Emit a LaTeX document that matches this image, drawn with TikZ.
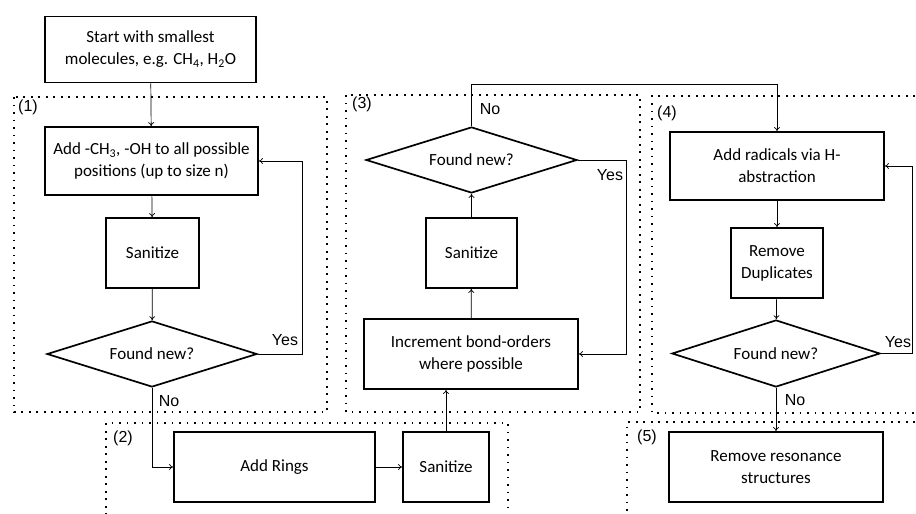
\documentclass[tikz,border=0pt]{standalone}
\usepackage{fontspec}
\setmainfont{Carlito}
\newfontfamily\arialf{Liberation Sans}
\usetikzlibrary{shapes.geometric,arrows.meta}
\begin{document}
\begin{tikzpicture}[x=1pt,y=-1pt,
  stepbox/.style={draw,line width=1.7pt,align=center,font=\fontsize{17}{22}\selectfont,inner sep=0pt},
  dia/.style={draw,diamond,line width=1.7pt,inner sep=0pt,font=\fontsize{17}{22}\selectfont,minimum width=210pt,minimum height=66pt,aspect=3.2},
  arr/.style={-{To[length=4pt,width=6pt]},line width=0.7pt},
  dots/.style={line width=1.7pt,dash pattern=on 1.7pt off 5.8pt},
  lbl/.style={font=\arialf\fontsize{16}{18}\selectfont,inner sep=0pt}]
\useasboundingbox (0,0) rectangle (916,514);
\begin{scope}
\clip (0,0) rectangle (916,514);
% dotted regions
\draw[dots] (14,97) rectangle (327,412);
\draw[dots] (346,95) rectangle (640,412);
\draw[dots] (930,96) -- (652,96) -- (652,413) -- (930,413);
\draw[dots] (106,530) -- (106,423) -- (508,423) -- (508,530);
\draw[dots] (930,422) -- (627,422) -- (627,530);
\end{scope}
\node[lbl] (l1) at (28,107) {(1)};
\node[lbl] (l2) at (123,438) {(2)};
\node[lbl] (l3) at (362,104) {(3)};
\node[lbl] (l4) at (667,113) {(4)};
\node[lbl] (l5) at (647,437) {(5)};
% nodes
\node[stepbox,minimum width=211pt,minimum height=66pt] (start) at (150.5,49.5) {Start with smallest\\molecules, e.g. CH\textsubscript{4}, H\textsubscript{2}O};
\node[stepbox,minimum width=213pt,minimum height=68pt] (add1) at (151.5,161) {Add -CH\textsubscript{3}, -OH to all possible\\positions (up to size n)};
\node[stepbox,minimum width=93pt,minimum height=70pt] (san1) at (152.5,253) {Sanitize};
\node[dia] (d1) at (152,354) {Found new?};
\node[stepbox,minimum width=201pt,minimum height=70pt] (rings) at (274.5,467) {Add Rings};
\node[stepbox,minimum width=86pt,minimum height=70pt] (san2) at (446,467) {Sanitize};
\node[stepbox,minimum width=214pt,minimum height=70pt] (inc) at (471,354) {Increment bond-orders\\where possible};
\node[stepbox,minimum width=91pt,minimum height=70pt] (san3) at (471.5,253) {Sanitize};
\node[dia,minimum width=211pt] (d3) at (471.5,160) {Found new?};
\node[stepbox,minimum width=214pt,minimum height=68pt] (rad) at (777,166) {Add radicals via H-\\abstraction};
\node[stepbox,minimum width=92pt,minimum height=70pt] (dup) at (777,263) {Remove\\Duplicates};
\node[dia,minimum width=208pt,minimum height=67pt] (d4) at (776,353.5) {Found new?};
\node[stepbox,minimum width=214pt,minimum height=70pt] (res) at (776,467) {Remove resonance\\structures};
% coordinates
\coordinate (y1) at (302,161);
\coordinate (y3) at (626,354);
\coordinate (n3) at (777,84);
\coordinate (y4) at (912,166);
% connectors
\draw[arr] (start) -- (add1);
\draw[arr] (add1) -- (san1);
\draw[arr] (san1) -- (d1);
\draw[arr] (d1.east) -| (y1) -- (add1.east);
\draw[arr] (d1.south) |- (rings.west);
\draw[arr] (rings) -- (san2);
\draw[arr] (san2.north) -- (san2.north |- inc.south);
\draw[arr] (inc) -- (san3);
\draw[arr] (san3) -- (d3);
\draw[arr] (d3.east) -| (y3) -- (inc.east);
\draw[arr] (d3.north) |- (n3) -- (rad.north);
\draw[arr] (rad) -- (dup);
\draw[arr] (dup) -- (d4);
\draw[arr] (d4.east) -| (y4) -- (rad.east);
\draw[arr] (d4.south) -- (res.north);
% labels
\node[lbl] (yes1) at (285,340) {Yes};
\node[lbl] (no1) at (169,401) {No};
\node[lbl] (yes3) at (610,175) {Yes};
\node[lbl] (no3) at (490,109) {No};
\node[lbl] (yes4) at (898,342) {Yes};
\node[lbl] (no4) at (795,400) {No};
\end{tikzpicture}
\end{document}
